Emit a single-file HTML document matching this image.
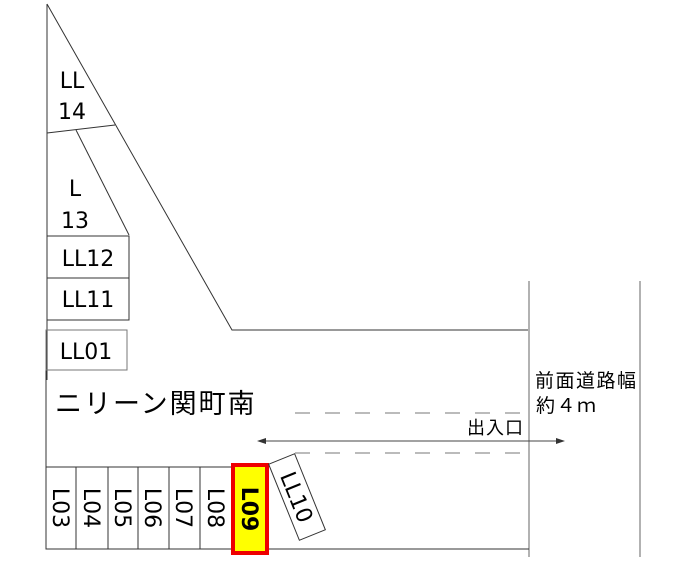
<!DOCTYPE html>
<html><head><meta charset="utf-8"><style>
body{margin:0;background:#fff;}
svg{display:block}
text{font-family:"DejaVu Sans","Liberation Sans","Noto Sans CJK JP",sans-serif;fill:#000}
.j{font-family:"Noto Sans CJK JP","WenQuanYi Zen Hei",sans-serif}
</style></head><body>
<svg width="678" height="562" viewBox="0 0 678 562" xmlns="http://www.w3.org/2000/svg">
<g stroke="#333" stroke-width="1" fill="none">
<line x1="47" y1="4" x2="47" y2="380"/>
<line x1="46" y1="370" x2="46" y2="549"/>
<polyline points="47,4 232,330 528,330"/>
<line x1="47" y1="133" x2="115" y2="125"/>
<line x1="76" y1="130" x2="129" y2="235"/>
<rect x="47" y="236" width="82" height="42"/>
<rect x="47" y="278" width="82" height="42"/>
<rect x="46" y="330" width="81" height="40" stroke="#777"/>
<line x1="529" y1="281" x2="529" y2="557" stroke="#666"/>
<line x1="640" y1="281" x2="640" y2="557" stroke="#666"/>
<line x1="46" y1="549" x2="529" y2="549"/>
<rect x="46" y="467" width="186" height="82"/>
<line x1="76" y1="467" x2="76" y2="549"/>
<line x1="108" y1="467" x2="108" y2="549"/>
<line x1="138" y1="467" x2="138" y2="549"/>
<line x1="169" y1="467" x2="169" y2="549"/>
<line x1="200" y1="467" x2="200" y2="549"/>
<line x1="295" y1="413" x2="528" y2="413" stroke="#777" stroke-dasharray="15,15"/>
<line x1="295" y1="453" x2="528" y2="453" stroke="#777" stroke-dasharray="15,15"/>
<line x1="262" y1="441" x2="560" y2="441" stroke="#444"/>
</g>
<polygon points="257,441 266,438 266,444" fill="#333"/>
<polygon points="565,441 556,438 556,444" fill="#333"/>
<rect x="233" y="465" width="34" height="88" fill="#ff0" stroke="#e00" stroke-width="4"/>
<g transform="translate(297,497) rotate(-22)">
<rect x="-14" y="-41" width="28" height="82" fill="#fff" stroke="#333"/>
<text transform="rotate(90)" x="0" y="8" font-size="22" text-anchor="middle">LL10</text>
</g>
<g font-size="22" text-anchor="middle">
<text x="72" y="88">LL</text><text x="72" y="119">14</text>
<text x="75" y="196">L</text><text x="75" y="228">13</text>
<text x="88" y="266">LL12</text>
<text x="88" y="307">LL11</text>
<text x="86" y="359">LL01</text>
<text transform="translate(61,508) rotate(90)" y="8">L03</text>
<text transform="translate(92,508) rotate(90)" y="8">L04</text>
<text transform="translate(123,508) rotate(90)" y="8">L05</text>
<text transform="translate(153,508) rotate(90)" y="8">L06</text>
<text transform="translate(184,508) rotate(90)" y="8">L07</text>
<text transform="translate(216,508) rotate(90)" y="8">L08</text>
<text transform="translate(250,509) rotate(90)" y="8" font-weight="bold">L09</text>
</g>
<text class="j" x="55" y="413" font-size="27" letter-spacing="2">ニリーン関町南</text>
<text class="j" x="467" y="434" font-size="18" letter-spacing="1">出入口</text>
<text class="j" x="535" y="387" font-size="19" letter-spacing="1.5">前面道路幅</text>
<text class="j" x="536" y="412" font-size="19" letter-spacing="1.5">約４ｍ</text>
</svg>
</body></html>
